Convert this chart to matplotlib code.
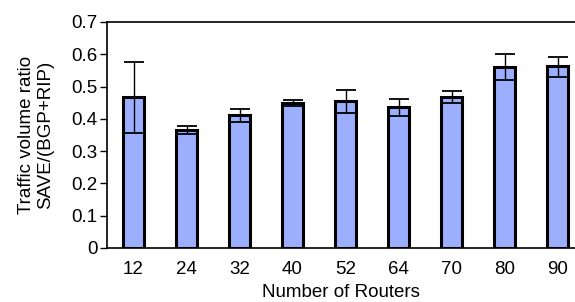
import matplotlib
matplotlib.use("Agg")
import matplotlib.pyplot as plt
import numpy as np

plt.rcParams['font.family'] = ['Liberation Sans', 'DejaVu Sans']

categories = ["12", "24", "32", "40", "52", "64", "70", "80", "90"]
values = [0.467, 0.366, 0.411, 0.450, 0.455, 0.436, 0.468, 0.561, 0.563]
err_upper = [0.576, 0.379, 0.431, 0.458, 0.489, 0.460, 0.487, 0.602, 0.592]
err_lower = [0.356, 0.353, 0.390, 0.441, 0.418, 0.410, 0.448, 0.520, 0.530]

yerr = np.array([np.array(values) - np.array(err_lower),
                 np.array(err_upper) - np.array(values)])

fig = plt.figure(figsize=(5.75, 3.02), dpi=100)
ax = fig.add_axes([107/575, 1 - 248/302, 1 - 107/575, (248 - 22)/302])
x = np.arange(len(categories))
ax.bar(x, values, width=0.4, color='#9CAFFF', edgecolor='black', linewidth=2.2, zorder=2)
ax.errorbar(x, values, yerr=yerr, fmt='none', ecolor='black', elinewidth=1.0,
            capsize=7, capthick=1.3, zorder=3)
ax.set_xlim(-0.5, 8.33)
ax.set_ylim(0, 0.7)
ax.set_yticks(np.arange(0, 0.71, 0.1))
ax.set_yticklabels(["0", "0.1", "0.2", "0.3", "0.4", "0.5", "0.6", "0.7"])
ax.set_xticks(x)
ax.set_xticklabels(categories)
ax.tick_params(axis='y', direction='out', length=5, width=1, labelsize=13.5, pad=2)
ax.tick_params(axis='x', length=0, labelsize=13.5, pad=9)
ax.spines['right'].set_visible(False)
for s in ['left', 'top', 'bottom']:
    ax.spines[s].set_linewidth(1.2)
ax.set_xlabel("Number of Routers", fontsize=13.5, labelpad=5)
ax.set_ylabel("Traffic volume ratio\nSAVE/(BGP+RIP)", fontsize=13.5, labelpad=12)
fig.savefig("out.png", dpi=100)
